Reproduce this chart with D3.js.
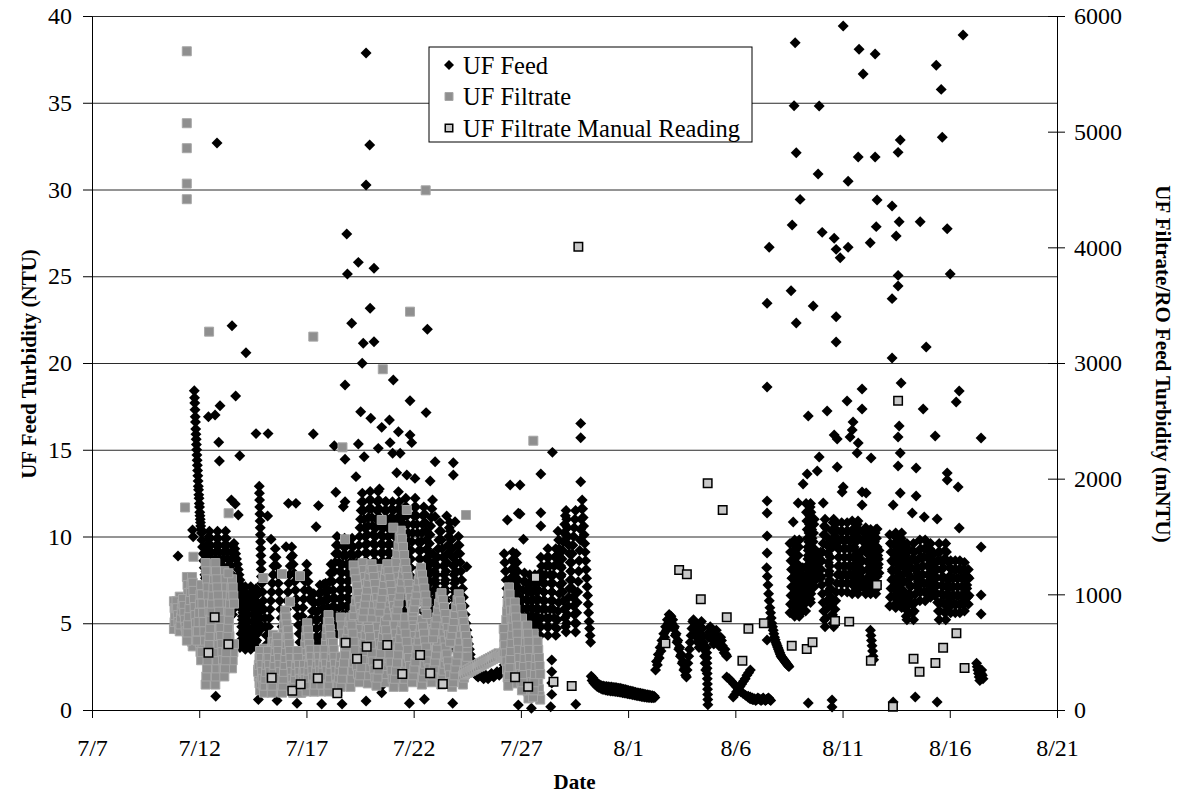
<!DOCTYPE html>
<html>
<head>
<meta charset="utf-8">
<script src="https://cdn.jsdelivr.net/npm/d3@7"></script>
<style>
  body { margin: 0; background: #fff; }
  svg { font-family: "Liberation Serif", "Times New Roman", serif; }
</style>
</head>
<body>
<svg width="1181" height="796"></svg>
<script>
// days are July day numbers (8/1 = 32, 8/21 = 52)
var dayTicks = [7, 12, 17, 22, 27, 32, 37, 42, 47, 52];
var leftTicks = [0, 5, 10, 15, 20, 25, 30, 35, 40];
var rightTicks = [0, 1000, 2000, 3000, 4000, 5000, 6000];

// UF Feed (NTU), logger runs: [first day, last day, readings]
var feedRunsJul11 = [
  [11.77, 12.08, [18.4,18.0,17.7,17.3,16.9,16.6,16.2,15.9,15.6,15.3,15.0,14.7,14.4,14.1,13.8,13.5,13.2,12.9,12.7,12.4,12.2,11.9,11.7,11.4,11.2,11.0,10.8,10.6,10.4]],
  [12.10, 13.58, [10.2,9.8,9.4,9.0,8.6,8.2,7.8,7.4,7.0,6.6,6.2,5.8,5.4,5.0,4.7,5.1,5.5,5.9,6.3,6.7,7.1,7.5,7.9,8.3,8.7,9.1,9.5,9.9,10.3,9.9,9.5,9.1,8.7,8.3,7.9,7.5,7.1,6.7,6.3,5.9,5.5,5.1,4.7,5.1,5.5,5.9,6.3,6.7,7.1,7.5,7.9,8.3,8.7,9.1,9.5,9.2]],
  [12.10, 13.58, [4.8,5.2,5.6,6.0,6.4,6.8,7.2,7.6,8.0,8.4,8.8,9.2,9.6,10.0,10.3,9.9,9.5,9.1,8.7,8.3,7.9,7.5,7.1,6.7,6.3,5.9,5.5,5.1,4.7,5.1,5.5,5.9,6.3,6.7,7.1,7.5,7.9,8.3,8.7,9.1,9.5,9.9,10.3,9.9,9.5,9.1,8.7,8.3,7.9,7.5,7.1,6.7,6.3,5.9,5.5,5.8]],
  [13.62, 14.34, [9.6,9.3,9.0,8.7,8.4,8.1,7.8,7.5,7.2,6.9,6.6,6.3,6.0,5.6,5.2,4.8,4.4,4.0,3.7]],
  [13.90, 14.82, [7.0,6.6,6.2,5.8,5.4,5.0,4.6,4.2,3.8,3.5,3.9,4.3,4.7,5.1,5.5,5.9,6.3,6.7,7.1,6.7,6.3,5.9,5.5,5.1,4.7,4.3,3.9,3.6,4.0,4.4,4.8,5.2,5.6,6.0]],
  [13.90, 14.82, [3.6,4.0,4.4,4.8,5.2,5.6,6.0,6.4,6.8,7.1,6.7,6.3,5.9,5.5,5.1,4.7,4.3,3.9,3.5,3.9,4.3,4.7,5.1,5.5,5.9,6.3,6.7,7.0,6.6,6.2,5.8,5.4,5.0,4.6]],
  [14.80, 14.90, [12.9,12.5,12.1,11.7,11.3,10.9,10.5,10.1,9.7,9.3,8.9,8.5,8.1,7.7]],
  [14.92, 17.15, [7.3,6.8,6.3,5.8,5.3,4.8,4.3,3.8,4.3,4.8,5.3,5.8,6.3,6.8,7.3,7.8,8.3,8.8,9.3,8.8,8.3,7.8,7.3,6.8,6.3,5.8,5.3,4.8,4.3,3.8,4.3,4.8,5.3,5.8,6.3,6.8,7.3,7.8,8.3,8.8,9.4,8.9,8.4,7.9,7.4,6.9,6.4,5.9,5.4,4.9,4.4,3.9,4.4,4.9,5.4,5.9,6.4,6.9,7.4,7.9,8.4,7.9,7.4,6.9,6.4]],
  [17.18, 18.28, [5.2,4.7,4.2,3.7,3.2,2.7,3.2,3.7,4.2,4.7,5.2,5.7,6.2,6.7,7.2,6.8,6.3,5.8,5.3,4.8,4.3,3.9,4.4,4.9,5.4,5.9,6.4,6.9,7.4,7.9,8.4,7.9,7.4,6.9,6.4]],
  [17.18, 18.28, [4.2,4.7,5.2,5.7,6.2,6.7,6.2,5.7,5.2,4.7,4.2,3.7,3.2,2.8,3.3,3.8,4.3,4.8,5.3,5.8,6.3,6.8,7.3,6.9,6.4,5.9,5.4,4.9,4.4,4.0,4.5,5.0,5.5,6.0,6.5]]
];

var feedRunsJul18 = [
  [18.30, 19.48, [6.4,5.9,5.4,4.9,4.4,4.9,5.4,5.9,6.4,6.9,7.4,7.9,8.4,8.9,9.4,9.9,9.4,8.9,8.4,7.9,7.4,6.9,6.4,5.9,5.4,4.9,4.5,5.0,5.5,6.0,6.5,7.0,7.5,8.0,8.5,9.0,9.5,10.0]],
  [18.30, 19.48, [8.0,8.5,9.0,9.5,10.0,9.5,9.0,8.5,8.0,7.5,7.0,6.5,6.0,5.5,5.0,4.5,5.0,5.5,6.0,6.5,7.0,7.5,8.0,8.5,9.0,9.5,9.9,9.4,8.9,8.4,7.9,7.4,6.9,6.4,5.9,5.4,4.9,4.4]],
  [19.50, 20.68, [10.5,11.0,11.5,12.0,12.5,12.0,11.5,11.0,10.5,10.0,9.5,9.0,8.5,8.0,7.5,7.0,6.5,6.0,5.5,6.0,6.5,7.0,7.5,8.0,8.5,9.0,9.5,10.0,10.5,11.0,11.5,12.0,12.6,12.1,11.6,11.1,10.6,10.1,9.6,9.1,8.6,8.1,7.6,7.1,6.6,6.1]],
  [19.50, 20.68, [7.6,7.1,6.6,6.1,5.6,6.1,6.6,7.1,7.6,8.1,8.6,9.1,9.6,10.1,10.6,11.1,11.6,12.1,12.6,12.1,11.6,11.1,10.6,10.1,9.6,9.1,8.6,8.1,7.6,7.1,6.6,6.1,5.5,6.0,6.5,7.0,7.5,8.0,8.5,9.0,9.5,10.0,10.5,11.0,11.5,12.0]],
  [20.70, 21.38, [6.6,7.1,7.6,8.1,8.6,9.1,9.6,10.1,10.6,11.1,11.6,12.0,11.5,11.0,10.5,10.0,9.5,9.0,8.5,8.0,7.5,7.0,6.7,7.2,7.7]],
  [20.70, 21.38, [12.0,11.5,11.0,10.5,10.0,9.5,9.0,8.5,8.0,7.5,7.0,6.6,7.1,7.6,8.1,8.6,9.1,9.6,10.1,10.6,11.1,11.6,12.0,11.5,11.0]],
  [21.40, 22.88, [8.2,8.7,9.2,9.7,10.2,10.7,11.2,11.7,12.2,11.7,11.2,10.7,10.2,9.7,9.2,8.7,8.2,7.7,7.2,6.7,6.2,5.7,5.2,4.7,5.2,5.7,6.2,6.7,7.2,7.7,8.2,8.7,9.2,9.7,10.2,10.7,11.2,11.7,11.3,10.8,10.3,9.8,9.3,8.8,8.3,7.8,7.3,6.8,6.3,5.8,5.3,4.8]],
  [21.40, 22.88, [8.7,8.2,7.7,7.2,6.7,6.2,5.7,5.2,4.7,5.2,5.7,6.2,6.7,7.2,7.7,8.2,8.7,9.2,9.7,10.2,10.7,11.2,11.7,12.2,11.7,11.2,10.7,10.2,9.7,9.2,8.7,8.2,7.7,7.2,6.7,6.2,5.7,5.2,5.6,6.1,6.6,7.1,7.6,8.1,8.6,9.1,9.6,10.1,10.6,11.1,11.6,12.1]],
  [22.90, 24.18, [5.3,5.8,6.3,6.8,7.3,7.8,8.3,8.8,9.3,9.8,10.3,10.8,10.3,9.8,9.3,8.8,8.3,7.8,7.3,6.8,6.3,5.8,5.3,4.8,4.3,3.8,3.5,4.0,4.5,5.0,5.5,6.0,6.5,7.0,7.5,8.0,8.5,9.0,9.5,10.0,9.5,9.0,8.5]],
  [22.90, 24.18, [9.0,8.5,8.0,7.5,7.0,6.5,6.0,5.5,5.0,4.5,4.0,3.5,4.0,4.5,5.0,5.5,6.0,6.5,7.0,7.5,8.0,8.5,9.0,9.5,10.0,10.5,10.8,10.3,9.8,9.3,8.8,8.3,7.8,7.3,6.8,6.3,5.8,5.3,4.8,4.3,4.8,5.3,5.8]],
  [24.20, 24.92, [8.0,7.5,7.0,6.5,6.0,5.5,5.0,4.6,4.2,3.8,3.5,3.2,2.9,2.7,2.5,2.3,2.2,2.1,2.0]],
  [24.95, 26.20, [2.0,1.9,2.0,2.1,2.0,1.9,1.8,1.9,2.0,1.9,1.8,1.9,2.0,2.1,2.0,1.9,2.0,2.1,2.2,2.1,2.0,2.1,2.2,2.3,2.4]]
];

var feedRunsJul26 = [
  [26.22, 27.00, [2.6,3.1,3.6,4.1,4.6,5.1,5.6,6.1,6.6,7.1,7.6,8.1,8.6,9.1,8.7,8.2,7.7,7.2,6.7,6.2,5.7,5.2,4.7,4.4,4.9,5.4]],
  [26.22, 27.00, [9.0,8.5,8.0,7.5,7.0,6.5,6.0,5.5,5.0,4.5,5.0,5.5,6.0,6.5,7.0,7.5,8.0,8.5,9.0,8.5,8.0,7.5,7.0,6.5,6.0,5.5]],
  [27.03, 27.90, [5.9,6.4,6.9,7.4,7.9,7.4,6.9,6.4,5.9,5.4,4.9,4.4,4.9,5.4,5.9,6.4,6.9,7.4,7.8,7.3,6.8,6.3,5.8,5.3,4.8,4.3]],
  [27.03, 27.90, [6.3,5.8,5.3,4.8,4.3,4.8,5.3,5.8,6.3,6.8,7.3,7.8,7.3,6.8,6.3,5.8,5.3,4.8,4.4,4.9,5.4,5.9,6.4,6.9,7.4,7.9]],
  [27.93, 28.70, [4.8,5.3,5.8,6.3,6.8,7.3,7.8,8.3,8.8,9.3,8.8,8.3,7.8,7.3,6.8,6.3,5.8,5.3,4.8,4.3,4.7,5.2]],
  [27.93, 28.70, [8.8,8.3,7.8,7.3,6.8,6.3,5.8,5.3,4.8,4.3,4.8,5.3,5.8,6.3,6.8,7.3,7.8,8.3,8.8,9.3,8.9,8.4]],
  [28.73, 29.55, [5.7,6.2,6.7,7.2,7.7,8.2,8.7,9.2,9.7,10.2,10.7,11.2,11.5,11.0,10.5,10.0,9.5,9.0,8.5,8.0,7.5,7.0,6.5,6.0,5.5,5.0,4.5]],
  [28.73, 29.55, [10.3,9.8,9.3,8.8,8.3,7.8,7.3,6.8,6.3,5.8,5.3,4.8,4.5,5.0,5.5,6.0,6.5,7.0,7.5,8.0,8.5,9.0,9.5,10.0,10.5,11.0,11.5]],
  [29.58, 30.25, [5.0,5.6,6.2,6.8,7.4,8.0,8.6,9.2,9.8,10.4,11.0,11.6,12.1,11.6,11.1,10.6,10.1,9.6,9.1,8.6,8.1,7.6,7.1,6.6,6.1,5.6,5.1,4.7,4.3,3.9]],
  [30.28, 33.25, [1.95,1.70,1.85,1.55,1.70,1.45,1.60,1.35,1.50,1.30,1.45,1.25,1.40,1.20,1.38,1.18,1.36,1.15,1.35,1.12,1.34,1.12,1.33,1.10,1.32,1.10,1.30,1.08,1.30,1.06,1.28,1.05,1.26,1.04,1.25,1.02,1.22,1.00,1.20,0.98,1.18,0.96,1.15,0.94,1.12,0.92,1.10,0.90,1.08,0.88,1.05,0.86,1.02,0.84,1.00,0.82,0.98,0.80,0.96,0.78,0.94,0.76,0.92,0.75,0.90,0.74,0.88,0.72,0.86,0.72,0.84,0.70,0.82,0.70,0.80,0.72]],
  [33.28, 34.00, [2.3,2.8,2.6,3.2,3.0,3.6,3.4,4.0,3.8,4.4,4.2,4.8,4.6,5.2,5.0,5.5,5.3,5.4]],
  [34.04, 34.72, [5.0,5.2,4.7,4.8,4.3,4.4,3.9,4.0,3.5,3.6,3.1,3.2,2.7,2.8,2.3,2.4,2.0,1.9]],
  [34.75, 35.05, [2.3,2.7,3.1,3.5,3.9,4.3,4.7,5.1,5.2]],
  [35.08, 35.62, [4.8,5.0,4.5,4.7,4.2,4.4,3.9,4.1,3.6,4.0,4.4,4.8,5.1,4.7,4.3,3.9,3.5,3.1,2.7,2.3]],
  [35.66, 35.72, [3.6,3.3,3.0,2.7,2.4,2.1,1.8,1.5,1.2,0.9,0.6,0.3]],
  [35.75, 36.60, [4.2,4.5,4.8,4.6,4.3,4.0,3.8,4.1,4.4,4.6,4.3,4.0,3.7,3.9,4.2,4.0,3.7,3.5,3.3,3.5,3.2,3.1]],
  [36.60, 37.80, [1.9,1.8,1.65,1.5,1.35,1.2,1.05,0.95,0.85,0.75,0.65,0.6]],
  [36.90, 37.70, [0.75,0.9,1.05,1.2,1.35,1.5,1.65,1.8,2.0,2.15,2.3]],
  [37.60, 38.65, [0.8,0.7,0.75,0.65,0.7,0.6,0.65,0.55,0.6,0.7,0.65,0.6,0.55,0.6,0.65,0.6,0.55,0.6,0.65,0.7,0.6,0.55]]
];

var feedRunsAug7 = [
  [38.46, 39.50, [8.2,7.7,7.2,6.7,6.3,5.9,5.6,5.3,5.0,4.8,4.6,4.4,4.2,4.05,3.9,3.8,3.7,3.6,3.5,3.4,3.3,3.2,3.1,3.05,3.0,2.95,2.9,2.85,2.8,2.75,2.7,2.65,2.6,2.55,2.5]],
  [39.55, 39.98, [5.6,6.1,6.6,7.1,7.6,8.1,8.6,9.1,9.6,9.8,9.3,8.8,8.3,7.8,7.3,6.8,6.3,5.8,5.4]],
  [39.55, 39.98, [9.6,9.1,8.6,8.1,7.6,7.1,6.6,6.1,5.6,5.4,5.9,6.4,6.9,7.4,7.9,8.4,8.9,9.4,9.8]],
  [40.01, 40.28, [5.8,6.3,6.8,7.3,7.8,8.2,7.7,7.2,6.7,6.2,5.7]],
  [40.01, 40.28, [8.1,7.6,7.1,6.6,6.1,5.7,6.2,6.7,7.2,7.7,8.2]],
  [40.30, 40.68, [6.2,6.7,7.2,7.7,8.2,8.7,9.2,9.7,10.2,10.7,11.2,11.7,11.9,11.4,10.9,10.4,9.9,9.4,8.9,8.4,7.9,7.4,7.1]],
  [40.30, 40.68, [11.9,11.4,10.9,10.4,9.9,9.4,8.9,8.4,7.9,7.4,6.9,6.4,6.2,6.7,7.2,7.7,8.2,8.7,9.2,9.7,10.2,10.7,11.0]],
  [40.70, 40.98, [7.6,8.1,8.6,9.1,8.6,8.1,7.6]],
  [40.70, 40.98, [9.1,8.6,8.1,7.6,8.1,8.6,9.1]],
  [41.00, 41.68, [8.1,8.6,9.1,9.6,10.1,10.6,11.0,10.5,10.0,9.5,9.0,8.5,8.0,7.5,7.0,6.5,6.0,5.5,5.0,4.8,5.3,5.8,6.3]],
  [41.00, 41.68, [7.7,7.2,6.7,6.2,5.7,5.2,4.8,5.3,5.8,6.3,6.8,7.3,7.8,8.3,8.8,9.3,9.8,10.3,10.8,11.0,10.5,10.0,9.5]],
  [41.70, 42.28, [6.8,7.3,7.8,8.3,8.8,9.3,9.8,10.3,10.8,10.3,9.8,9.3,8.8,8.3,7.8,7.3,6.8,7.3,7.8]],
  [41.70, 42.28, [10.8,10.3,9.8,9.3,8.8,8.3,7.8,7.3,6.8,7.3,7.8,8.3,8.8,9.3,9.8,10.3,10.8,10.3,9.8]],
  [42.30, 42.78, [8.3,8.8,9.3,9.8,10.3,10.9,10.4,9.9,9.4,8.9,8.4,7.9,7.4,6.9,6.7,7.2,7.7]],
  [42.30, 42.78, [9.3,8.8,8.3,7.8,7.3,6.7,7.2,7.7,8.2,8.7,9.2,9.7,10.2,10.7,10.9,10.4,9.9]],
  [42.80, 43.08, [8.2,8.7,9.2,9.7,10.2,10.5]],
  [42.80, 43.08, [9.0,8.5,8.0,7.5,7.0,6.7]],
  [43.10, 43.70, [10.0,9.5,9.0,8.5,8.0,7.5,7.0,6.7,7.2,7.7,8.2,8.7,9.2,9.7,10.2,10.4,9.9,9.4,8.9,8.4,7.9]],
  [43.10, 43.70, [7.1,7.6,8.1,8.6,9.1,9.6,10.1,10.4,9.9,9.4,8.9,8.4,7.9,7.4,6.9,6.7,7.2,7.7,8.2,8.7,9.2]],
  [43.30, 43.45, [4.6,4.3,4.0,3.7,3.4,3.1,2.9]],
  [44.20, 44.88, [6.0,6.5,7.0,7.5,8.0,8.5,9.0,9.5,10.0,10.2,9.7,9.2,8.7,8.2,7.7,7.2,6.7,6.2,5.9,6.4,6.9,7.4,7.9]],
  [44.20, 44.88, [10.1,9.6,9.1,8.6,8.1,7.6,7.1,6.6,6.1,5.9,6.4,6.9,7.4,7.9,8.4,8.9,9.4,9.9,10.2,9.7,9.2,8.7,8.2]],
  [44.90, 45.48, [8.4,8.9,9.4,9.6,9.1,8.6,8.1,7.6,7.1,6.6,6.1,5.6,5.2,5.7,6.2,6.7,7.2,7.7]],
  [44.90, 45.48, [6.4,5.9,5.4,5.2,5.7,6.2,6.7,7.2,7.7,8.2,8.7,9.2,9.6,9.1,8.6,8.1,7.6,7.1]],
  [45.50, 46.28, [8.2,8.7,9.2,9.8,9.3,8.8,8.3,7.8,7.3,6.8,6.3,6.8,7.3,7.8,8.3,8.8,9.3,9.6,9.1,8.6,8.1,7.6,7.1]],
  [45.50, 46.28, [7.9,7.4,6.9,6.3,6.8,7.3,7.8,8.3,8.8,9.3,9.8,9.3,8.8,8.3,7.8,7.3,6.8,6.5,7.0,7.5,8.0,8.5,9.0]],
  [46.30, 46.88, [6.6,7.1,7.6,8.1,8.6,9.1,9.6,9.1,8.6,8.1,7.6,7.1,6.6,6.1,5.6,5.2,5.7,6.2]],
  [46.30, 46.88, [8.2,7.7,7.2,6.7,6.2,5.7,5.2,5.7,6.2,6.7,7.2,7.7,8.2,8.7,9.2,9.6,9.1,8.6]],
  [46.90, 47.90, [6.7,7.2,7.7,8.2,8.6,8.1,7.6,7.1,6.6,6.1,5.6,6.1,6.6,7.1,7.6,8.1,8.6,8.1,7.6,7.1,6.6,6.1,5.7,6.2,6.7,7.2,7.7,8.1,7.6]],
  [46.90, 47.90, [7.5,7.0,6.5,6.0,5.6,6.1,6.6,7.1,7.6,8.1,8.6,8.1,7.6,7.1,6.6,6.1,5.6,6.1,6.6,7.1,7.6,8.1,8.5,8.0,7.5,7.0,6.5,6.1,6.6]],
  [48.25, 48.55, [2.7,2.5,2.3,2.1,1.9,1.7,1.9,2.1,2.3,2.0,1.8]]
];

// UF Feed single readings [day, NTU]
var feedSpots = [
  [11.01,8.88],[11.69,10.37],[11.72,9.99],[12.83,32.68],[13.53,22.15],[14.18,20.59],
  [12.43,16.9],[12.74,17.0],[12.97,17.54],[13.70,18.1],[12.91,15.43],[12.94,14.35],[13.89,14.66],[14.65,15.93],[15.21,15.93],[17.32,15.91],[18.30,15.23],
  [13.50,12.1],[13.68,11.87],[13.82,11.24],[15.19,11.18],[16.16,11.91],[16.51,11.91],[17.56,11.78],[17.45,10.56],[18.37,12.55],[16.05,9.41],[15.35,9.84],[17.79,7.24],
  [12.77,0.79],[14.76,0.6],[15.63,0.55],[16.56,0.39],[17.71,0.35],[18.66,0.34],[19.78,0.52],[20.47,1.34],[20.51,1.0],[21.80,0.39],[22.50,0.62],[23.82,0.39],[26.88,0.29],[27.49,0.1],
  [19.78,37.87],[19.95,32.56],[19.78,30.26],[18.88,27.44],[19.42,25.8],[20.15,25.46],[18.91,25.13],[19.97,23.15],[19.11,22.29],[19.65,21.14],[20.15,21.23],[22.64,21.94],
  [19.60,19.98],[21.05,19.02],[18.80,18.73],[21.83,17.83],[22.58,17.14],[19.53,17.19],[20.00,16.81],[20.87,16.71],[20.51,16.29],[21.29,16.04],[21.83,15.85],
  [19.42,15.33],[20.90,15.41],[21.91,15.41],[20.35,15.08],[19.69,14.6],[18.80,14.45],[21.02,14.8],[21.37,14.8],[23.00,14.31],[23.85,14.25],[23.85,13.54],
  [21.21,13.68],[19.31,13.45],[21.68,13.54],[22.06,13.35],[22.77,13.2],[18.80,12.0],[18.72,11.72],[20.40,12.74],[20.71,12.0],[21.29,12.58],[23.00,11.14],[23.54,11.18],[23.93,10.85],[24.48,8.26],
  [27.93,13.6],[26.50,12.97],[26.96,12.97],[26.37,10.95],[26.88,11.34],[27.93,11.37],[27.12,9.84],[27.93,10.6],[28.47,14.85],[26.96,11.3],[29.79,16.52],[29.79,15.69],[29.79,13.16],
  [28.44,2.88],[28.44,2.21],[28.44,1.55],[28.44,0.9],[28.39,0.19],[29.56,0.33],
  [38.48,23.44],[38.48,18.62],[38.48,12.05],[38.48,11.35],[38.48,10.03],[38.48,9.05],[38.48,4.03],[38.58,26.67],[38.30,0.7],
  [42.03,39.42],[39.79,38.46],[47.62,38.9],[42.77,38.08],[43.52,37.81],[46.37,37.16],[42.96,36.66],[46.60,35.77],[39.74,34.83],[40.91,34.81],[46.65,33.01],[44.69,32.85],[44.59,32.14],
  [39.84,32.12],[42.73,31.87],[43.52,31.87],[40.86,30.89],[42.26,30.47],[40.02,29.43],[43.61,29.39],[44.31,29.05],[44.64,28.14],[45.62,28.14],[39.65,27.95],[43.57,27.86],[46.88,27.74],
  [41.05,27.53],[44.50,27.32],[41.61,27.19],[41.70,26.55],[42.26,26.67],[43.29,26.93],[41.89,26.07],[44.59,25.05],[47.02,25.13],[44.59,24.44],[39.60,24.17],[40.63,23.29],[44.31,23.71],[41.70,22.67],
  [39.84,22.31],[41.70,21.21],[45.90,20.92],[44.31,20.29],[44.73,18.85],[47.44,18.39],[47.30,17.75],[42.91,18.5],[42.21,17.81],[42.91,17.35],[41.28,17.23],[40.40,16.95],[45.76,17.35],
  [42.49,16.6],[42.45,16.14],[41.61,15.85],[41.75,15.62],[42.35,15.73],[42.73,15.39],[44.64,16.37],[44.59,15.73],[46.32,15.79],[48.46,15.68],[42.68,14.81],[44.69,14.81],[40.91,14.58],
  [43.33,14.52],[44.59,14.06],[41.75,14.01],[45.43,13.95],[40.82,13.78],[40.35,13.6],[46.88,13.66],[46.88,13.26],[40.16,13.03],[47.39,12.85],[42.03,12.85],[41.98,12.56],[42.91,12.56],
  [43.10,12.51],[44.69,12.51],[45.43,12.33],[39.93,11.93],[41.10,11.93],[42.91,11.82],[44.36,11.82],[45.25,11.35],[45.81,11.12],[46.41,11.01],[39.70,10.84],[41.70,10.78],[43.61,10.43],
  [47.44,10.49],[48.46,9.39],[48.46,6.63],[48.46,5.53],
  [40.40,0.4],[41.51,0.58],[41.51,0.17],[44.36,0.46],[45.39,0.75],[46.41,0.46]
];

// UF Filtrate (mNTU), logger runs: [first day, last day, readings]
var filtrateRuns = [
  [10.82, 12.27, [940,880,820,760,700,760,820,880,940,980,920,860,800,740,700,760,820,880,940,900,1150,1080,1010,940,870,800,730,660,590,550,620,690,760,830,900,970,900,820,740,660,580,500,430,500,580,660,740,820,900]],
  [10.82, 12.27, [700,760,820,880,940,880,820,760,700,680,740,800,860,920,960,900,840,780,720,680,600,670,740,810,880,950,1020,1090,1150,1100,1030,960,890,820,750,680,600,680,760,840,920,1000,1080,1000,920,840,760,680,600]],
  [12.30, 13.62, [1270,1200,1130,1060,990,920,850,780,710,640,570,500,430,360,290,220,290,360,430,500,570,640,710,780,850,920,990,1060,1130,1200,1130,1060,990,920,850,780,710,640,570,500,430,360,430,500,570]],
  [12.30, 13.62, [220,290,360,430,500,570,640,710,780,850,920,990,1060,1130,1200,1270,1200,1130,1060,990,920,850,780,710,640,570,500,430,360,290,360,430,500,570,640,710,780,850,920,990,1060,1130,1060,990,920]],
  [14.75, 18.60, [350,290,230,170,230,290,350,410,470,530,470,410,350,290,230,170,230,290,350,410,470,530,590,650,590,530,470,410,350,290,230,170,230,290,350,410,470,530,600,670,740,810,860,800,740,680,620,560,500,440,380,320,260,200,150,210,270,330,390,450,510,450,390,330,270,210,150,210,270,330,390,450,510,570,630,690,750,690,630,570,510,450,390,330,270,210,160,220,280,340,400,460,520,460,400,340,280,220,160,220,280,340,400,460,520,580,640,700,760,820,760,700,640,580,520,460,400,340,280,220,160,220,280,340,400,460,400,340,280]],
  [14.75, 18.60, [330,390,450,510,450,390,330,270,210,150,210,270,330,390,450,510,450,390,330,270,210,150,210,270,330,390,450,510,570,630,570,510,450,390,330,270,210,150,210,270,330,390,450,510,570,630,690,630,570,510,450,390,330,270,210,150,210,270,330,390,450,510,450,390,330,270,210,150,210,270,330,390,330,270,210,160,220,280,340,400,460,520,460,400,340,280,220,160,220,280,340,400,460,520,460,400,340,280,220,280,340,400,460,520,460,400,340,280,220,160,220,280,340,400,460,520,580,520,460,400,340,280,220,160,220,280,340,400,460]],
  [18.60, 24.50, [800,730,660,590,520,450,380,310,240,200,270,340,410,480,550,620,690,760,700,630,560,490,420,350,280,230,300,370,440,510,580,650,720,790,720,650,580,510,440,370,300,240,310,380,450,520,590,660,730,800,730,660,590,520,450,380,310,240,200,270,340,410,480,550,620,690,760,700,640,580,520,460,400,340,280,220,280,340,400,460,520,580,640,700,760,700,640,580,520,460,400,340,280,220,280,340,400,460,520,580,640,700,760,820,760,700,640,580,520,460,400,340,280,220,280,340,400,460]],
  [18.60, 24.50, [200,270,340,410,480,550,620,690,760,800,730,660,590,520,450,380,310,240,300,370,440,510,580,650,720,770,700,630,560,490,420,350,280,210,280,350,420,490,560,630,700,760,690,620,550,480,410,340,270,200,270,340,410,480,550,620,690,760,800,730,660,590,520,450,380,310,240,300,360,420,480,540,600,660,720,780,720,660,600,540,480,420,360,300,240,300,360,420,480,540,600,660,720,780,720,660,600,540,480,420,360,300,240,200,240,300,360,420,480,540,600,660,720,780,720,660,600,540]],
  [19.20, 22.60, [820,880,940,1000,1060,1120,1180,1240,1270,1210,1150,1090,1030,970,910,850,800,860,920,980,1040,1100,1160,1220,1160,1100,1040,980,920,860,810,870,930,990,1050,1110,1170,1230,1280,1350,1420,1490,1550,1480,1410,1340,1270,1200,1130,1060,990,920,860,810,870,930,990,1050,1110,1170,1130,1070,1010,950,890,830]],
  [19.20, 22.60, [1250,1190,1130,1070,1010,950,890,830,800,860,920,980,1040,1100,1160,1220,1260,1210,1150,1090,1030,970,910,850,910,970,1030,1090,1150,1210,1260,1200,1140,1080,1020,960,900,840,810,870,930,990,1050,1110,1170,1230,1270,1210,1150,1090,1030,970,910,850,880,940,1000,1060,1120,1180,1230,1170,1110,1050,990,930]],
  [22.90, 24.50, [620,680,740,800,860,920,980,1010,950,890,830,770,710,650,590,650,710,770,830,890,950,1000,940,880,820,760,700,640,580]],
  [24.30, 26.35, [300,330,310,340,320,350,330,360,340,370,350,380,360,390,370,400,380,410,390,420,400,430,410,440,420,450,430,460,440,470,450,480,460,490,470,480,460,470,450,440,430,420]],
  [26.20, 27.90, [500,570,640,710,780,850,920,990,1060,1000,930,860,790,720,650,580,510,440,370,300,230,300,370,440,510,580,650,720,790,720,650,580,510,440,370,300,230,160,100,170,240,310,380,450,520,590,660,600,540,480,420,360,300,240,180,120,90]],
  [26.20, 27.90, [700,630,560,490,420,350,280,210,300,370,440,510,580,650,720,790,860,930,870,800,730,660,590,520,450,380,310,240,170,240,310,380,450,520,590,660,730,660,590,520,450,380,310,240,170,110,170,240,310,380,450,520,590,520,450,380,310]]
];

// UF Filtrate single readings [day, mNTU]
var filtrateSpots = [
  [11.42,5695],[11.42,5073],[11.42,4857],[11.42,4551],[11.42,4416],[12.46,3271],[17.32,3228],[22.56,4493],[21.83,3444],[20.56,2946],[18.68,2271],[27.58,2328],
  [21.68,1729],[24.44,1686],[20.51,1643],[21.05,1576],[18.80,1476],[11.34,1751],[13.37,1701],[11.73,1325],[14.99,1141],[15.86,1176],[16.70,1158],[16.23,936],[13.36,1182]
];

// UF Filtrate manual readings [day, mNTU]
var manualReadings = [
  [12.43,495],[12.72,801],[13.36,568],[15.38,279],[16.34,167],[16.73,222],[17.53,274],[18.44,144],[18.83,582],[19.36,444],[19.81,547],[20.33,395],[20.77,562],
  [21.47,311],[22.30,476],[22.77,317],[23.36,225],[26.73,283],[27.34,202],[27.68,1147],[28.52,245],[29.37,207],[29.68,4005],[33.74,576],[34.38,1210],[34.74,1173],
  [35.39,957],[35.71,1960],[36.41,1729],[36.60,801],[37.33,426],[37.61,703],[38.33,750],[39.63,556],[40.33,527],[40.60,585],[41.65,770],[42.31,764],[43.32,426],
  [43.60,1081],[44.35,29],[44.59,2674],[45.31,444],[45.59,331],[46.33,406],[46.69,539],[47.31,663],[47.69,363]
];

var svg = d3.select("svg");
var margin = {top: 16, right: 124, bottom: 86, left: 92},
    width = +svg.attr("width") - margin.left - margin.right,
    height = +svg.attr("height") - margin.top - margin.bottom;

function julyDay(d) { return new Date(Date.UTC(2004, 6, 1) + (d - 1) * 864e5); }

// spread a run's readings evenly between its first and last time stamp
function expand(runs) {
  var pts = [];
  runs.forEach(function(r) {
    var n = r[2].length;
    r[2].forEach(function(v, i) {
      pts.push([r[0] + (r[1] - r[0]) * i / (n - 1), v]);
    });
  });
  return pts;
}

var feedData = expand(feedRunsJul11.concat(feedRunsJul18, feedRunsJul26, feedRunsAug7)).concat(feedSpots);
var filtrateData = expand(filtrateRuns).concat(filtrateSpots);

var x = d3.scaleUtc().domain([julyDay(7), julyDay(52)]).range([0, width]),
    y = d3.scaleLinear().domain([0, 40]).range([height, 0]),
    y2 = d3.scaleLinear().domain([0, 6000]).range([height, 0]);

var g = svg.append("g").attr("transform", "translate(" + margin.left + "," + margin.top + ")");

// gridlines
g.append("g")
    .call(d3.axisLeft(y).tickValues(leftTicks.slice(1)).tickSize(-width).tickFormat(""))
    .call(function(s) { s.select(".domain").remove(); })
    .selectAll("line").attr("stroke", "#2b2b2b");

var diamond = d3.symbol().type(d3.symbolSquare).size(60)(),
    square = d3.symbol().type(d3.symbolSquare).size(81)(),
    manualSq = d3.symbol().type(d3.symbolSquare).size(72)();

g.append("g").selectAll("path")
    .data(feedData)
  .enter().append("path")
    .attr("d", diamond)
    .attr("fill", "#000")
    .attr("transform", function(d) { return "translate(" + x(julyDay(d[0])) + "," + y(d[1]) + ") rotate(45)"; });

g.append("g").selectAll("path")
    .data(filtrateData)
  .enter().append("path")
    .attr("d", square)
    .attr("fill", "#8f8f8f")
    .attr("stroke", "#a6a6a6")
    .attr("stroke-width", 1)
    .attr("transform", function(d) { return "translate(" + x(julyDay(d[0])) + "," + y2(d[1]) + ")"; });

g.append("g").selectAll("path")
    .data(manualReadings)
  .enter().append("path")
    .attr("d", manualSq)
    .attr("fill", "#c8c8c8")
    .attr("stroke", "#000")
    .attr("stroke-width", 1.5)
    .attr("transform", function(d) { return "translate(" + x(julyDay(d[0])) + "," + y2(d[1]) + ")"; });

// axes
var xAxis = g.append("g")
    .attr("transform", "translate(0," + height + ")")
    .call(d3.axisBottom(x).tickValues(dayTicks.map(julyDay)).tickFormat(d3.utcFormat("%-m/%-d"))
      .tickSizeInner(8).tickSizeOuter(0).tickPadding(21));

var yAxis = g.append("g")
    .call(d3.axisLeft(y).tickValues(leftTicks).tickSizeInner(9).tickSizeOuter(0).tickPadding(11));

var yAxis2 = g.append("g")
    .attr("transform", "translate(" + width + ",0)")
    .call(d3.axisRight(y2).tickValues(rightTicks).tickFormat(d3.format("d"))
      .tickSizeInner(8).tickSizeOuter(0).tickPadding(9));
yAxis2.selectAll(".tick line").attr("x1", -9);

[xAxis, yAxis, yAxis2].forEach(function(a) {
  a.selectAll("text").style("font-size", "24px").attr("fill", "#000")
      .style("font-family", "'Liberation Serif', 'Times New Roman', serif");
  a.selectAll("line").attr("stroke", "#000");
  a.select(".domain").attr("stroke", "#000");
});

// axis titles
svg.append("text")
    .attr("transform", "translate(29,364) rotate(-90)")
    .attr("text-anchor", "middle")
    .attr("dy", "0.35em")
    .style("font-size", "21px").style("font-weight", "bold")
    .text("UF Feed Turbidity (NTU)");

svg.append("text")
    .attr("transform", "translate(1163,364) rotate(90)")
    .attr("text-anchor", "middle")
    .attr("dy", "0.35em")
    .style("font-size", "21px").style("font-weight", "bold")
    .text("UF Filtrate/RO Feed Turbidity (mNTU)");

svg.append("text")
    .attr("x", margin.left + width / 2)
    .attr("y", 789)
    .attr("text-anchor", "middle")
    .style("font-size", "21px").style("font-weight", "bold")
    .text("Date");

// legend
var legend = svg.append("g").attr("transform", "translate(429,47)");
legend.append("rect")
    .attr("width", 323).attr("height", 95)
    .attr("fill", "#fff").attr("stroke", "#000").attr("stroke-width", 1);

var legendItems = [
  {label: "UF Feed", d: d3.symbol().type(d3.symbolSquare).size(50)(), fill: "#000", stroke: "none", sw: 0, rot: 45},
  {label: "UF Filtrate", d: d3.symbol().type(d3.symbolSquare).size(64)(), fill: "#8f8f8f", stroke: "#a6a6a6", sw: 1, rot: 0},
  {label: "UF Filtrate Manual Reading", d: d3.symbol().type(d3.symbolSquare).size(56)(), fill: "#c8c8c8", stroke: "#000", sw: 1.5, rot: 0}
];

legendItems.forEach(function(it, i) {
  var row = legend.append("g").attr("transform", "translate(0," + (18 + i * 31.5) + ")");
  row.append("path")
      .attr("d", it.d)
      .attr("transform", "translate(20,0) rotate(" + it.rot + ")")
      .attr("fill", it.fill).attr("stroke", it.stroke).attr("stroke-width", it.sw);
  row.append("text")
      .attr("x", 34)
      .attr("dy", "0.35em")
      .style("font-size", "24.5px")
      .text(it.label);
});
</script>
</body>
</html>
